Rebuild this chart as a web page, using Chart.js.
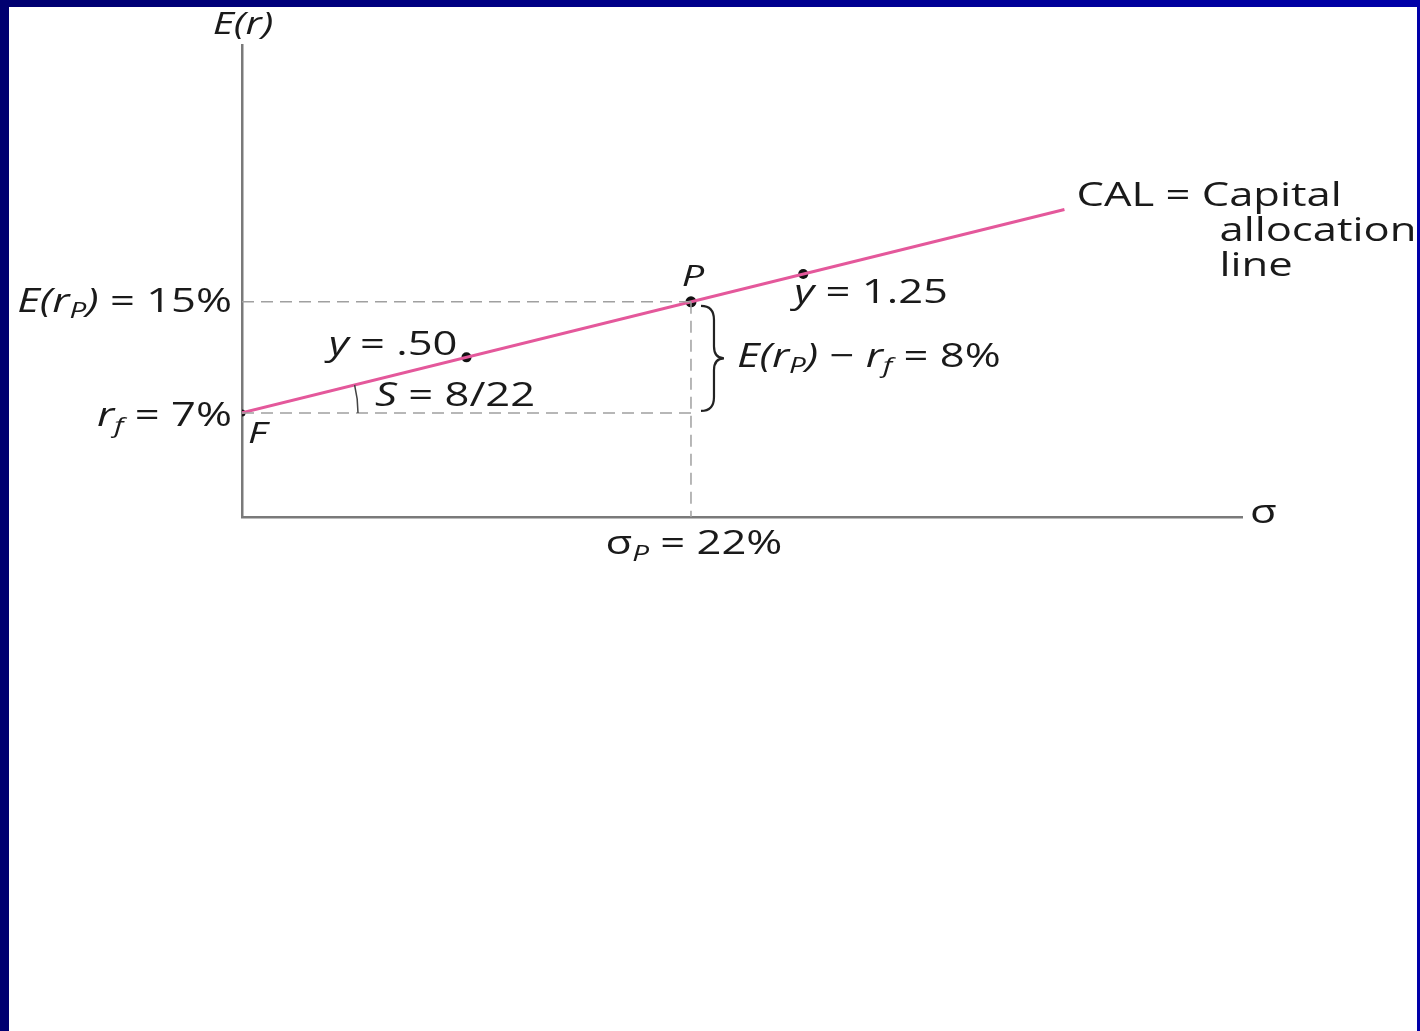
<!DOCTYPE html>
<html>
<head>
<meta charset="utf-8">
<script src="https://cdn.jsdelivr.net/npm/chart.js@4"></script>
<style>
  html, body { margin: 0; padding: 0; }
  body {
    width: 1420px; height: 1031px; overflow: hidden;
    background: linear-gradient(to right, #000070, #0000a8);
    position: relative;
  }
  .sheet {
    position: absolute; left: 9px; top: 7px; right: 3px; bottom: 0;
    background: #ffffff;
  }
  .wrap { position: absolute; left: 0; top: 0; width: 1420px; height: 1031px; }
</style>
</head>
<body>
<div class="sheet"></div>
<div class="wrap"><canvas id="calChart"></canvas></div>
<script>
// ===== DATA =====
const xRange = [0, 49];          // sigma axis extent (%)
const yRange = [-0.5, 33.5];     // E(r) axis extent (%)

const rf = 7;                    // risk-free rate
const erP = 15;                  // risky portfolio expected return
const sigmaP = 22;               // risky portfolio std dev

// capital allocation line end points
const calSigma = [0, 40.3];
const calReturn = [7, 21.65];

// portfolios on the CAL
const portNames = ['F', 'y = .50', 'P', 'y = 1.25'];
const portSigma = [0, 11, 22, 27.5];
const portReturn = [7, 11, 15, 17];

const FONT = "'Open Sans', 'DejaVu Sans', sans-serif";
const INK = '#1a1a1a';
const SX = 1.32;                 // labels are set wide

function pts(xs, ys) {
    return xs.map((x, i) => ({ x: x, y: ys[i] }));
}

// rich text: segments {t, it, sub}
function drawRich(ctx, segs, x, y, size, align) {
    const parts = segs.map(s => {
        const sz = s.sub ? size * 0.68 : size;
        const f = (s.it ? 'italic ' : '') + '500 ' + sz + 'px ' + FONT;
        ctx.font = f;
        return { t: s.t, f: f, w: ctx.measureText(s.t).width * SX, dy: s.sub ? size * 0.28 : 0 };
    });
    const total = parts.reduce((a, p) => a + p.w, 0);
    let cx = x;
    if (align === 'right') cx = x - total;
    else if (align === 'center') cx = x - total / 2;
    ctx.textBaseline = 'middle';
    ctx.textAlign = 'left';
    ctx.fillStyle = INK;
    parts.forEach(p => {
        ctx.save();
        ctx.font = p.f;
        ctx.translate(cx, y + p.dy);
        ctx.scale(SX, 1);
        ctx.fillText(p.t, 0, 0);
        ctx.restore();
        cx += p.w;
    });
}

const annotations = {
    id: 'annotations',
    afterDatasetsDraw(chart) {
        const ctx = chart.ctx;
        const xs = chart.scales.x, ys = chart.scales.y;
        const X = v => xs.getPixelForValue(v);
        const Y = v => ys.getPixelForValue(v);
        const fs = 33;
        ctx.save();

        // axis titles
        drawRich(ctx, [{ t: 'E(r)', it: true }], X(0) + 1, Y(yRange[1]) - 20, 31, 'center');
        drawRich(ctx, [{ t: 'σ' }], X(xRange[1]) + 8, Y(yRange[0]) - 3, fs, 'left');

        // left-side levels
        drawRich(ctx, [{ t: 'E(r', it: true }, { t: 'P', it: true, sub: true }, { t: ')', it: true }, { t: ' = 15%' }],
            X(0) - 10, Y(erP) + 1, fs, 'right');
        drawRich(ctx, [{ t: 'r', it: true }, { t: 'f', it: true, sub: true }, { t: ' = 7%' }],
            X(0) - 10, Y(rf) + 4, fs, 'right');
        drawRich(ctx, [{ t: 'F', it: true }], X(0) + 6, Y(rf) + 22, 30, 'left');

        // portfolio labels
        drawRich(ctx, [{ t: 'y', it: true }, { t: ' = .50' }], X(portSigma[1]) - 9, Y(portReturn[1]) - 12, fs, 'right');
        drawRich(ctx, [{ t: 'P', it: true }], X(sigmaP) + 2, Y(erP) - 24, 30, 'center');
        drawRich(ctx, [{ t: 'y', it: true }, { t: ' = 1.25' }], X(portSigma[3]) - 9, Y(portReturn[3]) + 20, fs, 'left');

        // slope angle arc and label
        const fx = X(0), fy = Y(rf);
        const ang = Math.atan2(Y(calReturn[0]) - Y(calReturn[1]), X(calSigma[1]) - X(calSigma[0]));
        ctx.strokeStyle = '#444';
        ctx.lineWidth = 1.5;
        ctx.beginPath();
        ctx.arc(fx, fy, 116, -ang, 0);
        ctx.stroke();
        drawRich(ctx, [{ t: 'S', it: true }, { t: ' = 8/22' }], fx + 133, fy - 16, fs, 'left');

        // brace for the risk premium
        const bx = X(sigmaP) + 20, top = Y(erP) + 4, bot = Y(rf) - 2, mid = (top + bot) / 2;
        ctx.strokeStyle = '#222';
        ctx.lineWidth = 2.2;
        ctx.beginPath();
        ctx.moveTo(bx - 10, top);
        ctx.quadraticCurveTo(bx + 3, top, bx + 3, top + 14);
        ctx.lineTo(bx + 3, mid - 12);
        ctx.quadraticCurveTo(bx + 3, mid, bx + 13, mid);
        ctx.quadraticCurveTo(bx + 3, mid, bx + 3, mid + 12);
        ctx.lineTo(bx + 3, bot - 14);
        ctx.quadraticCurveTo(bx + 3, bot, bx - 10, bot);
        ctx.stroke();
        drawRich(ctx, [{ t: 'E(r', it: true }, { t: 'P', it: true, sub: true }, { t: ')', it: true }, { t: ' − ' },
            { t: 'r', it: true }, { t: 'f', it: true, sub: true }, { t: ' = 8%' }],
            X(sigmaP) + 46, Y((erP + rf) / 2), fs, 'left');

        // sigma_P tick label
        drawRich(ctx, [{ t: 'σ' }, { t: 'P', it: true, sub: true }, { t: ' = 22%' }], X(sigmaP) + 3, Y(yRange[0]) + 28, fs, 'center');

        // CAL caption
        const lx = X(calSigma[1]) + 12, ly = Y(calReturn[1]) - 13;
        drawRich(ctx, [{ t: 'CAL = Capital' }], lx, ly, fs, 'left');
        drawRich(ctx, [{ t: 'allocation' }], lx + 143, ly + 35, fs, 'left');
        drawRich(ctx, [{ t: 'line' }], lx + 143, ly + 70, fs, 'left');

        ctx.restore();
    }
};

const guide = {
    showLine: true, borderColor: '#a0a0a0', borderWidth: 1.5, borderDash: [12, 7],
    pointRadius: 0, fill: false
};

new Chart(document.getElementById('calChart'), {
    type: 'scatter',
    data: {
        datasets: [
            Object.assign({ data: [{ x: 0, y: erP }, { x: sigmaP, y: erP }] }, guide),
            Object.assign({ data: [{ x: 0, y: rf }, { x: sigmaP, y: rf }] }, guide),
            Object.assign({ data: [{ x: sigmaP, y: erP }, { x: sigmaP, y: yRange[0] }] }, guide),
            {
                label: 'CAL',
                data: pts(calSigma, calReturn),
                showLine: true,
                borderColor: '#e4589b',
                borderWidth: 3,
                pointRadius: 0
            },
            {
                label: 'Portfolios',
                data: pts(portSigma, portReturn),
                showLine: false,
                pointRadius: [3.5, 5, 5.5, 5],
                pointBackgroundColor: '#111',
                pointBorderWidth: 0
            }
        ]
    },
    options: {
        responsive: true,
        maintainAspectRatio: false,
        animation: false,
        layout: { padding: { left: 242, top: 45, right: 178, bottom: 514 } },
        plugins: { legend: { display: false }, tooltip: { enabled: false } },
        scales: {
            x: {
                type: 'linear', min: xRange[0], max: xRange[1],
                grid: { display: false, drawTicks: false },
                ticks: { display: false },
                border: { display: true, color: '#7a7a7a', width: 2.5 }
            },
            y: {
                type: 'linear', min: yRange[0], max: yRange[1],
                grid: { display: false, drawTicks: false },
                ticks: { display: false },
                border: { display: true, color: '#7a7a7a', width: 2.5 }
            }
        }
    },
    plugins: [annotations]
});
</script>
</body>
</html>
